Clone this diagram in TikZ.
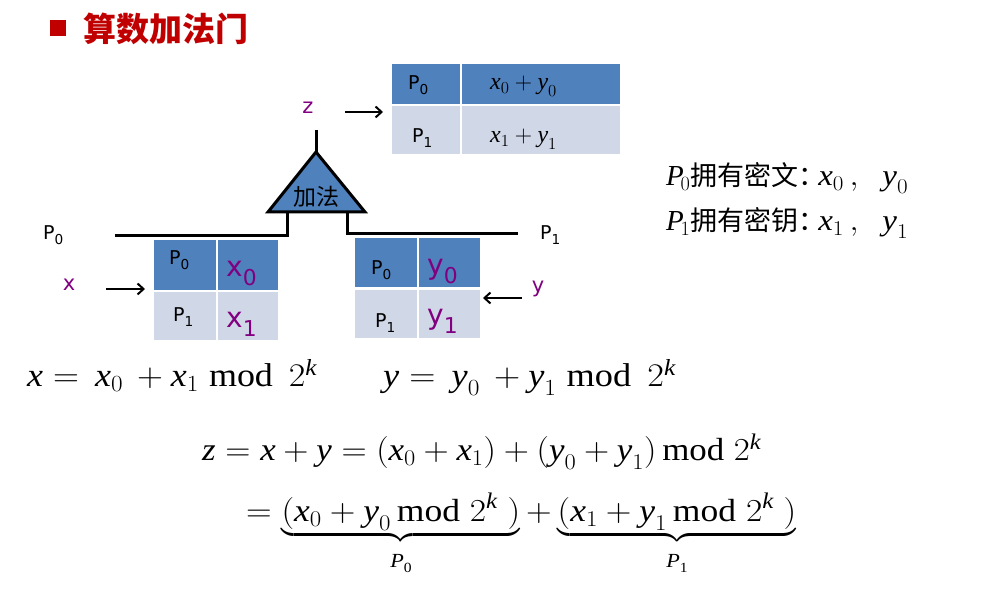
\RequirePackage{fix-cm}
\documentclass[tikz,border=0pt]{standalone}
\usepackage{fontspec}
\usepackage{amsmath}
\usepackage{graphicx}
\setmainfont{Liberation Serif}
\newfontfamily\vsans{DejaVu Sans}
\newfontfamily\cjk{Noto Sans CJK SC}
\usetikzlibrary{arrows.meta}
\definecolor{dkb}{HTML}{4F81BD}
\definecolor{ltb}{HTML}{D0D8E8}
\definecolor{pur}{HTML}{800080}
\definecolor{ttl}{HTML}{C00000}
\newcommand\ssb[2]{#1\raisebox{-0.22em}{\scalebox{0.72}{#2}}}
\newcommand\bsb[2]{#1\raisebox{-0.3em}{\scalebox{0.78}{#2}}}
\newcommand\mi[1]{\textit{#1}}
\newcommand\fs[1]{\fontsize{#1}{#1}\selectfont}
\newcommand\pl{\mathbin{\mathrm{+}}}
\newcommand\eqs{\mathrel{\mathrm{=}}}
\newcommand\lp{\mathopen{\mathrm{(}}}
\newcommand\rp{\mathclose{\mathrm{)}}}
\newcommand\st[2]{\scalebox{#1}[1]{#2}}
\newcommand\blab[1]{\hbox{\rule{0pt}{0.75em}\fs{20}\itshape P\raisebox{-.25em}{\fs{14}\upshape #1}}}
\begin{document}
\begin{tikzpicture}[x=1pt,y=-1pt,
  cellD/.style={fill=dkb,draw=white,line width=2pt,anchor=north west,inner sep=0pt},
  cellL/.style={fill=ltb,draw=white,line width=2pt,anchor=north west,inner sep=0pt},
  lbl/.style={inner sep=0pt,anchor=base west,font=\vsans\fs{19}},
  plbl/.style={inner sep=0pt,anchor=base west,font=\vsans\fs{28},text=pur},
  var/.style={inner sep=0pt,font=\vsans\fs{21},text=pur},
  arr/.style={line width=2.2pt,-{Straight Barb[length=6pt,width=11pt,line width=2pt]}},
  wire/.style={line width=3pt},
  eq/.style={inner sep=0pt,anchor=base west}]
\useasboundingbox (0,0) rectangle (1005,609);
\fill[white] (0,0) rectangle (1005,609);
% title
\node[fill=ttl,minimum size=16pt,inner sep=0pt] (sq) at (57.5,28) {};
\node[inner sep=0pt,anchor=west,font=\cjk\bfseries\fs{33},text=ttl] (title) at (83,29) {算数加法门};
% top table
\node[cellD,minimum width=70pt,minimum height=42pt] (t11) at (390,62) {};
\node[cellD,minimum width=160pt,minimum height=42pt] (t12) at (460,62) {};
\node[cellL,minimum width=70pt,minimum height=50pt] (t21) at (390,104) {};
\node[cellL,minimum width=160pt,minimum height=50pt] (t22) at (460,104) {};
\node[lbl] (tp0) at (408,90) {\ssb{P}{0}};
\node[lbl] (tp1) at (412,143) {\ssb{P}{1}};
\node[eq,font=\fs{24}] (ts0) at (490,90) {$\mi{x}_0\pl\mi{y}_0$};
\node[eq,font=\fs{24}] (ts1) at (490,143) {$\mi{x}_1\pl\mi{y}_1$};
% z
\node[var] (z) at (308,108) {z};
\coordinate (zs) at (345,112);
\coordinate (ze) at (383,112);
\draw[arr] (zs) -- (ze);
% adder
\coordinate (apex) at (316,152);
\coordinate (stem) at (316,130);
\coordinate (bl) at (268,212);
\coordinate (br) at (365,212);
\draw[wire] (stem) -- (apex);
\draw[fill=dkb,line width=3pt,line join=miter] (apex) -- (bl) -- (br) -- cycle;
\node[inner sep=0pt,font=\cjk\fs{23}] (add) at (316,197) {加法};
% wires
\coordinate (lw0) at (115,236);
\coordinate (lw1) at (287,236);
\coordinate (lw2) at (287,212);
\coordinate (rw0) at (347,212);
\coordinate (rw1) at (347,234);
\coordinate (rw2) at (518,234);
\draw[wire,line join=miter] (lw0) -- (lw1) -- (lw2);
\draw[wire,line join=miter] (rw0) -- (rw1) -- (rw2);
\node[lbl] (pl) at (43,240) {\ssb{P}{0}};
\node[lbl] (pr) at (540,240) {\ssb{P}{1}};
% left table
\node[cellD,minimum width=64pt,minimum height=52pt] (l11) at (152,238) {};
\node[cellD,minimum width=62pt,minimum height=52pt] (l12) at (216,238) {};
\node[cellL,minimum width=64pt,minimum height=50pt] (l21) at (152,290) {};
\node[cellL,minimum width=62pt,minimum height=50pt] (l22) at (216,290) {};
\node[lbl] (lp0) at (169,265) {\ssb{P}{0}};
\node[lbl] (lp1) at (173,322) {\ssb{P}{1}};
\node[plbl] (lx0) at (226,277) {\bsb{x}{0}};
\node[plbl] (lx1) at (226,328) {\bsb{x}{1}};
\node[var] (x) at (69,285) {x};
\coordinate (xs) at (106,289);
\coordinate (xe) at (145,289);
\draw[arr] (xs) -- (xe);
% right table
\node[cellD,minimum width=64pt,minimum height=51pt] (r11) at (353,236) {};
\node[cellD,minimum width=63pt,minimum height=51pt] (r12) at (417,236) {};
\node[cellL,minimum width=64pt,minimum height=50pt] (r21) at (353,288) {};
\node[cellL,minimum width=63pt,minimum height=50pt] (r22) at (417,288) {};
\node[lbl] (rp0) at (371,275) {\ssb{P}{0}};
\node[lbl] (rp1) at (375,328) {\ssb{P}{1}};
\node[plbl] (ry0) at (427,275) {\bsb{y}{0}};
\node[plbl] (ry1) at (427,325) {\bsb{y}{1}};
\node[var] (y) at (538,289) {y};
\coordinate (ys) at (522,298);
\coordinate (ye) at (483,298);
\draw[arr] (ys) -- (ye);
% right side text
\node[eq,font=\fs{29}] (own0) at (666,186) {$\mi{P}_{\!0}$\cjk\fs{27}拥有密文：\hspace{-7pt}\fs{30}\rmfamily\st{1.1}{$\mi{x}_0\,,\;\;\mi{y}_0$}};
\node[eq,font=\fs{29}] (own1) at (666,231) {$\mi{P}_{\!1}$\cjk\fs{27}拥有密钥：\hspace{-7pt}\fs{30}\rmfamily\st{1.1}{$\mi{x}_1\,,\;\;\mi{y}_1$}};
% equations
\node[eq,font=\fs{33}] (ex) at (27,387) {\st{1.09}{$\mi{x}\eqs\,\mi{x}_0\,\pl\mi{x}_1\;\mathrm{mod}\;\,2^{\mi{k}}$}};
\node[eq,font=\fs{33}] (ey) at (383,387) {\st{1.1}{$\mi{y}\eqs\,\mi{y}_0\,\pl\mi{y}_1\;\mathrm{mod}\;\,2^{\mi{k}}$}};
\node[eq,font=\fs{32}] (ez) at (202,461) {\st{1.09}{$\mi{z}\eqs\mi{x}\pl\mi{y}\eqs\lp\mi{x}_0\pl\mi{x}_1\rp\pl\lp\mi{y}_0\pl\mi{y}_1\rp\,\mathrm{mod}\;2^{\mi{k}}$}};
\node[eq,font=\fs{32}] (ez2) at (246,522) {\st{1.11}{$\eqs\underbrace{\lp\mi{x}_0\pl\mi{y}_0\,\mathrm{mod}\;2^{\mi{k}}\;\rp\rule[-5pt]{0pt}{0pt}}_{\blab{0}}\pl\underbrace{\lp\mi{x}_1\pl\mi{y}_1\,\mathrm{mod}\;2^{\mi{k}}\;\rp\rule[-5pt]{0pt}{0pt}}_{\blab{1}}$}};
\end{tikzpicture}
\end{document}
